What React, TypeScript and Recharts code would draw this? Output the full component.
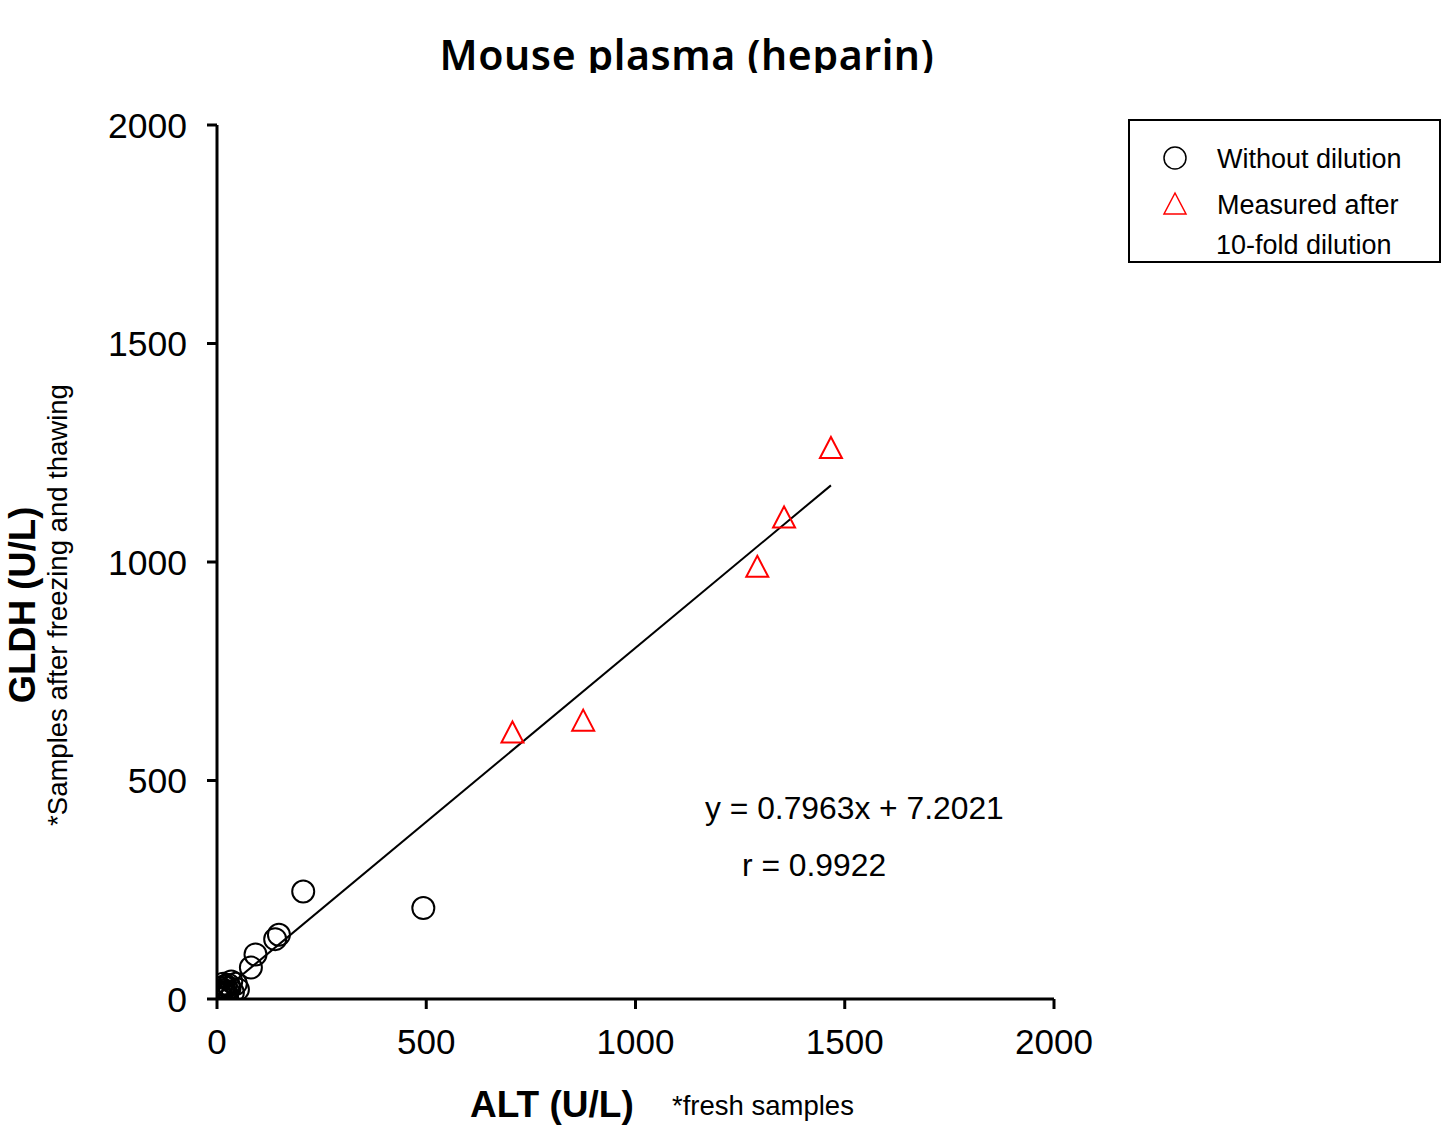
import { ScatterChart, Scatter, XAxis, YAxis, ReferenceLine } from "recharts"

// Tick values of both axes (U/L)
const xTicks = [0, 500, 1000, 1500, 2000]
const yTicks = [0, 500, 1000, 1500, 2000]

// Samples measured without dilution: ALT (fresh) and GLDH (after freeze/thaw)
const undilutedAlt = [206, 493, 148, 139, 92, 81, 10, 14, 18, 20, 24, 26, 30, 34, 38, 45, 50, 12, 16, 28, 5, 8, 22, 15, 6, 19]
const undilutedGldh = [246, 208, 147, 137, 102, 72, 8, 20, 12, 30, 5, 18, 25, 40, 15, 35, 22, 3, 28, 32, 15, 25, 10, 35, 2, 16]

// Samples measured after 10-fold dilution
const dilutedAlt = [706, 875, 1291, 1355, 1467]
const dilutedGldh = [610, 637, 989, 1102, 1261]

// Regression line printed on the chart
const slope = 0.7963
const intercept = 7.2021
const fitFrom = 8
const fitTo = 1467

const undiluted = undilutedAlt.map((x, i) => ({ x, y: undilutedGldh[i] }))
const diluted = dilutedAlt.map((x, i) => ({ x, y: dilutedGldh[i] }))

const font = "'Liberation Sans', Arial, sans-serif"

const OpenCircle = (props: any) => (
    <circle cx={props.cx} cy={props.cy} r={11} fill="none" stroke="#000" strokeWidth={2} />
)

const OpenTriangle = (props: any) => {
    const { cx, cy } = props
    return (
        <path
            d={`M${cx},${cy - 11} L${cx + 11},${cy + 10} L${cx - 11},${cy + 10} Z`}
            fill="none"
            stroke="#ff0000"
            strokeWidth={2}
        />
    )
}

export default function App() {
    return (
        <div style={{ position: "absolute", left: 0, top: 0, width: 1450, height: 1140, background: "#fff" }}>
            <ScatterChart
                width={1450}
                height={1140}
                margin={{ top: 125, right: 396, bottom: 81, left: 117 }}
            >
                <XAxis
                    type="number"
                    dataKey="x"
                    domain={[0, 2000]}
                    ticks={xTicks}
                    height={60}
                    tickSize={10}
                    tickMargin={20}
                    axisLine={{ stroke: "#000", strokeWidth: 3 }}
                    tickLine={{ stroke: "#000", strokeWidth: 3 }}
                    tick={{ fontSize: 35, fill: "#000", fontFamily: font }}
                    allowDataOverflow
                />
                <YAxis
                    type="number"
                    dataKey="y"
                    domain={[0, 2000]}
                    ticks={yTicks}
                    width={100}
                    tickSize={10}
                    tickMargin={20}
                    axisLine={{ stroke: "#000", strokeWidth: 3 }}
                    tickLine={{ stroke: "#000", strokeWidth: 3 }}
                    tick={{ fontSize: 35.5, fill: "#000", fontFamily: font }}
                    allowDataOverflow
                />
                <ReferenceLine
                    segment={[
                        { x: fitFrom, y: slope * fitFrom + intercept },
                        { x: fitTo, y: slope * fitTo + intercept },
                    ]}
                    stroke="#000"
                    strokeWidth={2}
                    ifOverflow="visible"
                />
                <Scatter data={undiluted} shape={OpenCircle} isAnimationActive={false} />
                <Scatter data={diluted} shape={OpenTriangle} isAnimationActive={false} />
            </ScatterChart>

            {/* titles, axis labels, equation and legend */}
            <svg
                width={1450}
                height={1140}
                style={{ position: "absolute", left: 0, top: 0, pointerEvents: "none" }}
            >
                <defs>
                    <clipPath id="titleClip">
                        <rect x={0} y={0} width={1450} height={73} />
                    </clipPath>
                </defs>
                <text
                    x={687}
                    y={70}
                    textAnchor="middle"
                    clipPath="url(#titleClip)"
                    style={{ fontFamily: "'Noto Sans', sans-serif", fontSize: 41, fontWeight: 600, letterSpacing: 0.6 }}
                >
                    Mouse plasma (heparin)
                </text>

                <text x={470} y={1117} style={{ fontFamily: font, fontSize: 37, fontWeight: 700 }}>
                    ALT (U/L)
                </text>
                <text x={672} y={1115} style={{ fontFamily: font, fontSize: 27.5 }}>
                    *fresh samples
                </text>

                <text
                    transform="translate(35,605) rotate(-90)"
                    textAnchor="middle"
                    style={{ fontFamily: font, fontSize: 36.5, fontWeight: 700 }}
                >
                    GLDH (U/L)
                </text>
                <text
                    transform="translate(67,605) rotate(-90)"
                    textAnchor="middle"
                    style={{ fontFamily: font, fontSize: 27.5 }}
                >
                    *Samples after freezing and thawing
                </text>

                <text x={705} y={819} style={{ fontFamily: font, fontSize: 31.8 }}>
                    y = 0.7963x + 7.2021
                </text>
                <text x={742} y={876} style={{ fontFamily: font, fontSize: 31.8 }}>
                    r = 0.9922
                </text>

                <g transform="translate(1128,119)">
                    <rect x={1} y={1} width={311} height={142} fill="#fff" stroke="#000" strokeWidth={2} />
                    <circle cx={47} cy={39} r={11} fill="none" stroke="#000" strokeWidth={1.5} />
                    <path d="M47,74 L58,95 L36,95 Z" fill="none" stroke="#ff0000" strokeWidth={1.5} />
                    <text x={89} y={49} style={{ fontFamily: font, fontSize: 27 }}>
                        Without dilution
                    </text>
                    <text x={89} y={95} style={{ fontFamily: font, fontSize: 27 }}>
                        Measured after
                    </text>
                    <text x={88} y={135} style={{ fontFamily: font, fontSize: 27 }}>
                        10-fold dilution
                    </text>
                </g>
            </svg>
        </div>
    )
}
